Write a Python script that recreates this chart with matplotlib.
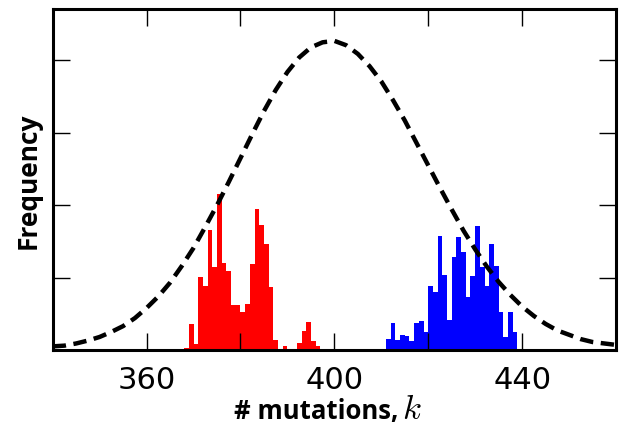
import numpy as np
import matplotlib
matplotlib.use('Agg')
import matplotlib.pyplot as plt

# histogram bins (left edge, width 1) and heights
red_k = list(range(368, 397))
red_freq = [0.03, 0.36, 0.08, 1.01, 0.88, 1.66, 1.15, 2.15, 1.20, 1.09,
            0.62, 0.62, 0.52, 0.64, 1.19, 1.95, 1.73, 1.46, 0.87, 0.14,
            0.00, 0.06, 0.00, 0.00, 0.10, 0.26, 0.39, 0.12, 0.06]

blue_k = list(range(411, 439))
blue_freq = [0.15, 0.37, 0.14, 0.21, 0.19, 0.12, 0.37, 0.40, 0.25, 0.88,
             0.80, 1.57, 1.04, 0.41, 1.28, 1.56, 1.35, 0.73, 1.02, 1.71,
             1.15, 0.88, 1.46, 1.16, 0.52, 0.18, 0.52, 0.25]

# dashed reference distribution, read every 2.5 units
curve_k = [340, 342.5, 345, 347.5, 350, 352.5, 355, 357.5, 360, 362.5, 365,
           367.5, 370, 372.5, 375, 377.5, 380, 382.5, 385, 387.5, 390, 392.5,
           395, 397.5, 400, 402.5, 405, 407.5, 410, 412.5, 415, 417.5, 420,
           422.5, 425, 427.5, 430, 432.5, 435, 437.5, 440, 442.5, 445, 447.5,
           450, 452.5, 455, 457.5, 460]
curve_freq = [0.05, 0.06, 0.09, 0.13, 0.18, 0.25, 0.33, 0.44, 0.58, 0.74, 0.93,
              1.16, 1.41, 1.70, 2.00, 2.32, 2.65, 2.98, 3.30, 3.59, 3.84, 4.04,
              4.18, 4.25, 4.27, 4.21, 4.09, 3.92, 3.71, 3.45, 3.17, 2.86, 2.55,
              2.24, 1.94, 1.65, 1.39, 1.15, 0.94, 0.76, 0.60, 0.47, 0.36, 0.27,
              0.21, 0.15, 0.11, 0.09, 0.07]

xticks = [360, 380, 400, 420, 440]
xtick_labels = ['360', '', '400', '', '440']

plt.rcParams['mathtext.fontset'] = 'cm'

fig = plt.figure(figsize=(6.23, 4.39), dpi=100)
ax = fig.add_axes([0.0846, 0.2005, 0.9042, 0.7767])

ax.bar(red_k, red_freq, width=1.0, align='edge', color='#ff0000', lw=0)
ax.bar(blue_k, blue_freq, width=1.0, align='edge', color='#0000ff', lw=0)
ax.plot(curve_k, curve_freq, color='k', lw=3.2, ls=(0, (3.0, 1.7)))

ax.set_xlim(340, 460)
ax.set_ylim(0, 4.71)
ax.set_xticks(xticks)
ax.set_xticklabels(xtick_labels, fontsize=22, family='DejaVu Sans')
ax.set_yticks([1, 2, 3, 4])
ax.set_yticklabels([])
ax.tick_params(direction='in', length=12, width=1, top=True, right=True, pad=11)
for s in ax.spines.values():
    s.set_linewidth(2.2)

# x label: bold words plus a larger italic k
fig.text(0.639, 0.045, '# mutations,', fontsize=18.5, fontweight='bold',
         family='Open Sans', ha='right', va='baseline')
fig.text(0.646, 0.045, '$k$', fontsize=25, ha='left', va='baseline')
ax.set_ylabel('Frequency', fontsize=19, fontweight='bold', family='Open Sans', labelpad=-3)

fig.savefig('out.png', dpi=100)
